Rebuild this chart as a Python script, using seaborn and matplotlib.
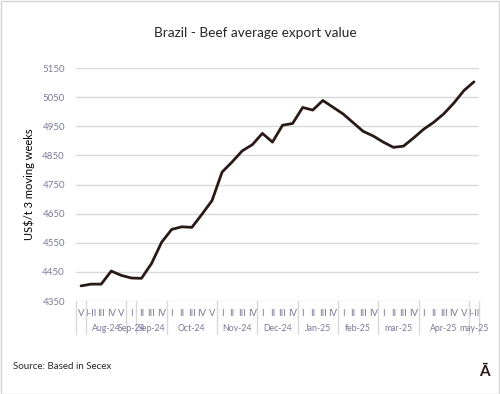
import numpy as np
import pandas as pd
import matplotlib
matplotlib.use("Agg")
import matplotlib.pyplot as plt
import matplotlib.transforms as mtransforms
import seaborn as sns

# semaines (étiquettes du premier niveau de l'axe)
weeks = ["V",
         "I-II", "III", "IV", "V",
         "I",
         "II", "III", "IV",
         "I", "II", "III", "IV", "V",
         "I", "II", "III", "IV",
         "I", "II", "III", "IV",
         "I", "II", "III", "IV",
         "I", "II", "III", "IV",
         "I", "II", "III", "IV",
         "I", "II", "III", "IV", "V",
         "I-II"]
# mois (second niveau) et nombre de semaines dans chaque groupe
months = ["", "Aug-24", "Sep-24", "Sep-24", "Oct-24", "Nov-24", "Dec-24",
          "Jan-25", "feb-25", "mar-25", "Apr-25", "may-25"]
month_sizes = [1, 4, 1, 3, 5, 4, 4, 4, 4, 4, 5, 1]
# valeur moyenne export (US$/t, moyenne mobile 3 semaines)
values = [4402, 4408, 4408, 4453, 4438, 4429, 4428, 4479, 4552, 4596,
          4605, 4603, 4648, 4695, 4793, 4828, 4866, 4887, 4926, 4896,
          4954, 4960, 5015, 5006, 5039, 5016, 4993, 4963, 4933, 4917,
          4896, 4878, 4882, 4910, 4940, 4964, 4993, 5030, 5073, 5103]

df = pd.DataFrame({"pos": np.arange(len(values)), "value": values})

sns.set_style("white")
plt.rcParams["font.family"] = ["Lato", "DejaVu Sans"]

grey_txt = "#7a7a99"
fig = plt.figure(figsize=(5, 3.94), dpi=100)
ax = fig.add_axes([0.152, 0.236, 0.806, 0.591])

sns.lineplot(data=df, x="pos", y="value", ax=ax, color="#2a1a17", linewidth=2)

ax.set_xlim(-0.5, len(values) - 0.5)
ax.set_ylim(4350, 5150)
ax.set_yticks(np.arange(4350, 5151, 100))
ax.yaxis.grid(True, color="#d9d9d9", linewidth=1)
ax.set_axisbelow(True)
for s in ax.spines.values():
    s.set_visible(False)

ax.tick_params(axis="y", length=0, labelsize=7, labelcolor=grey_txt, pad=8)
ax.set_xticks(df["pos"])
ax.set_xticklabels(weeks)
ax.tick_params(axis="x", length=0, labelsize=6.8, labelcolor=grey_txt, pad=6)
ax.set_xlabel("")
ax.set_ylabel("US$/t 3 moving weeks", fontsize=8, color="black", labelpad=5)

# séparateurs et étiquettes des mois
trans = mtransforms.blended_transform_factory(ax.transData, ax.transAxes)
start = 0
edges = [-0.5]
for name, n in zip(months, month_sizes):
    center = start + (n - 1) / 2
    ax.text(center, -0.12, name, transform=trans, ha="center", va="center",
            fontsize=6.3, color=grey_txt)
    start += n
    edges.append(start - 0.5)
for e in edges:
    ax.plot([e, e], [0, -0.14], transform=trans, color="#d9d9d9",
            linewidth=1, clip_on=False)

fig.text(0.51, 0.916, "Brazil - Beef average export value", ha="center",
         va="center", fontsize=9.8)
fig.text(0.026, 0.071, "Source: Based in Secex", ha="left", va="center",
         fontsize=7)
fig.text(0.968, 0.056, "Ā", ha="center", va="center", fontsize=11,
         fontweight="bold", color="#2a1a17")

fig.patches.append(plt.Rectangle((0.001, 0.001), 0.997, 0.997,
                                 transform=fig.transFigure, fill=False,
                                 edgecolor="#d4d4d4", linewidth=1))

fig.savefig("out.png", dpi=100)
